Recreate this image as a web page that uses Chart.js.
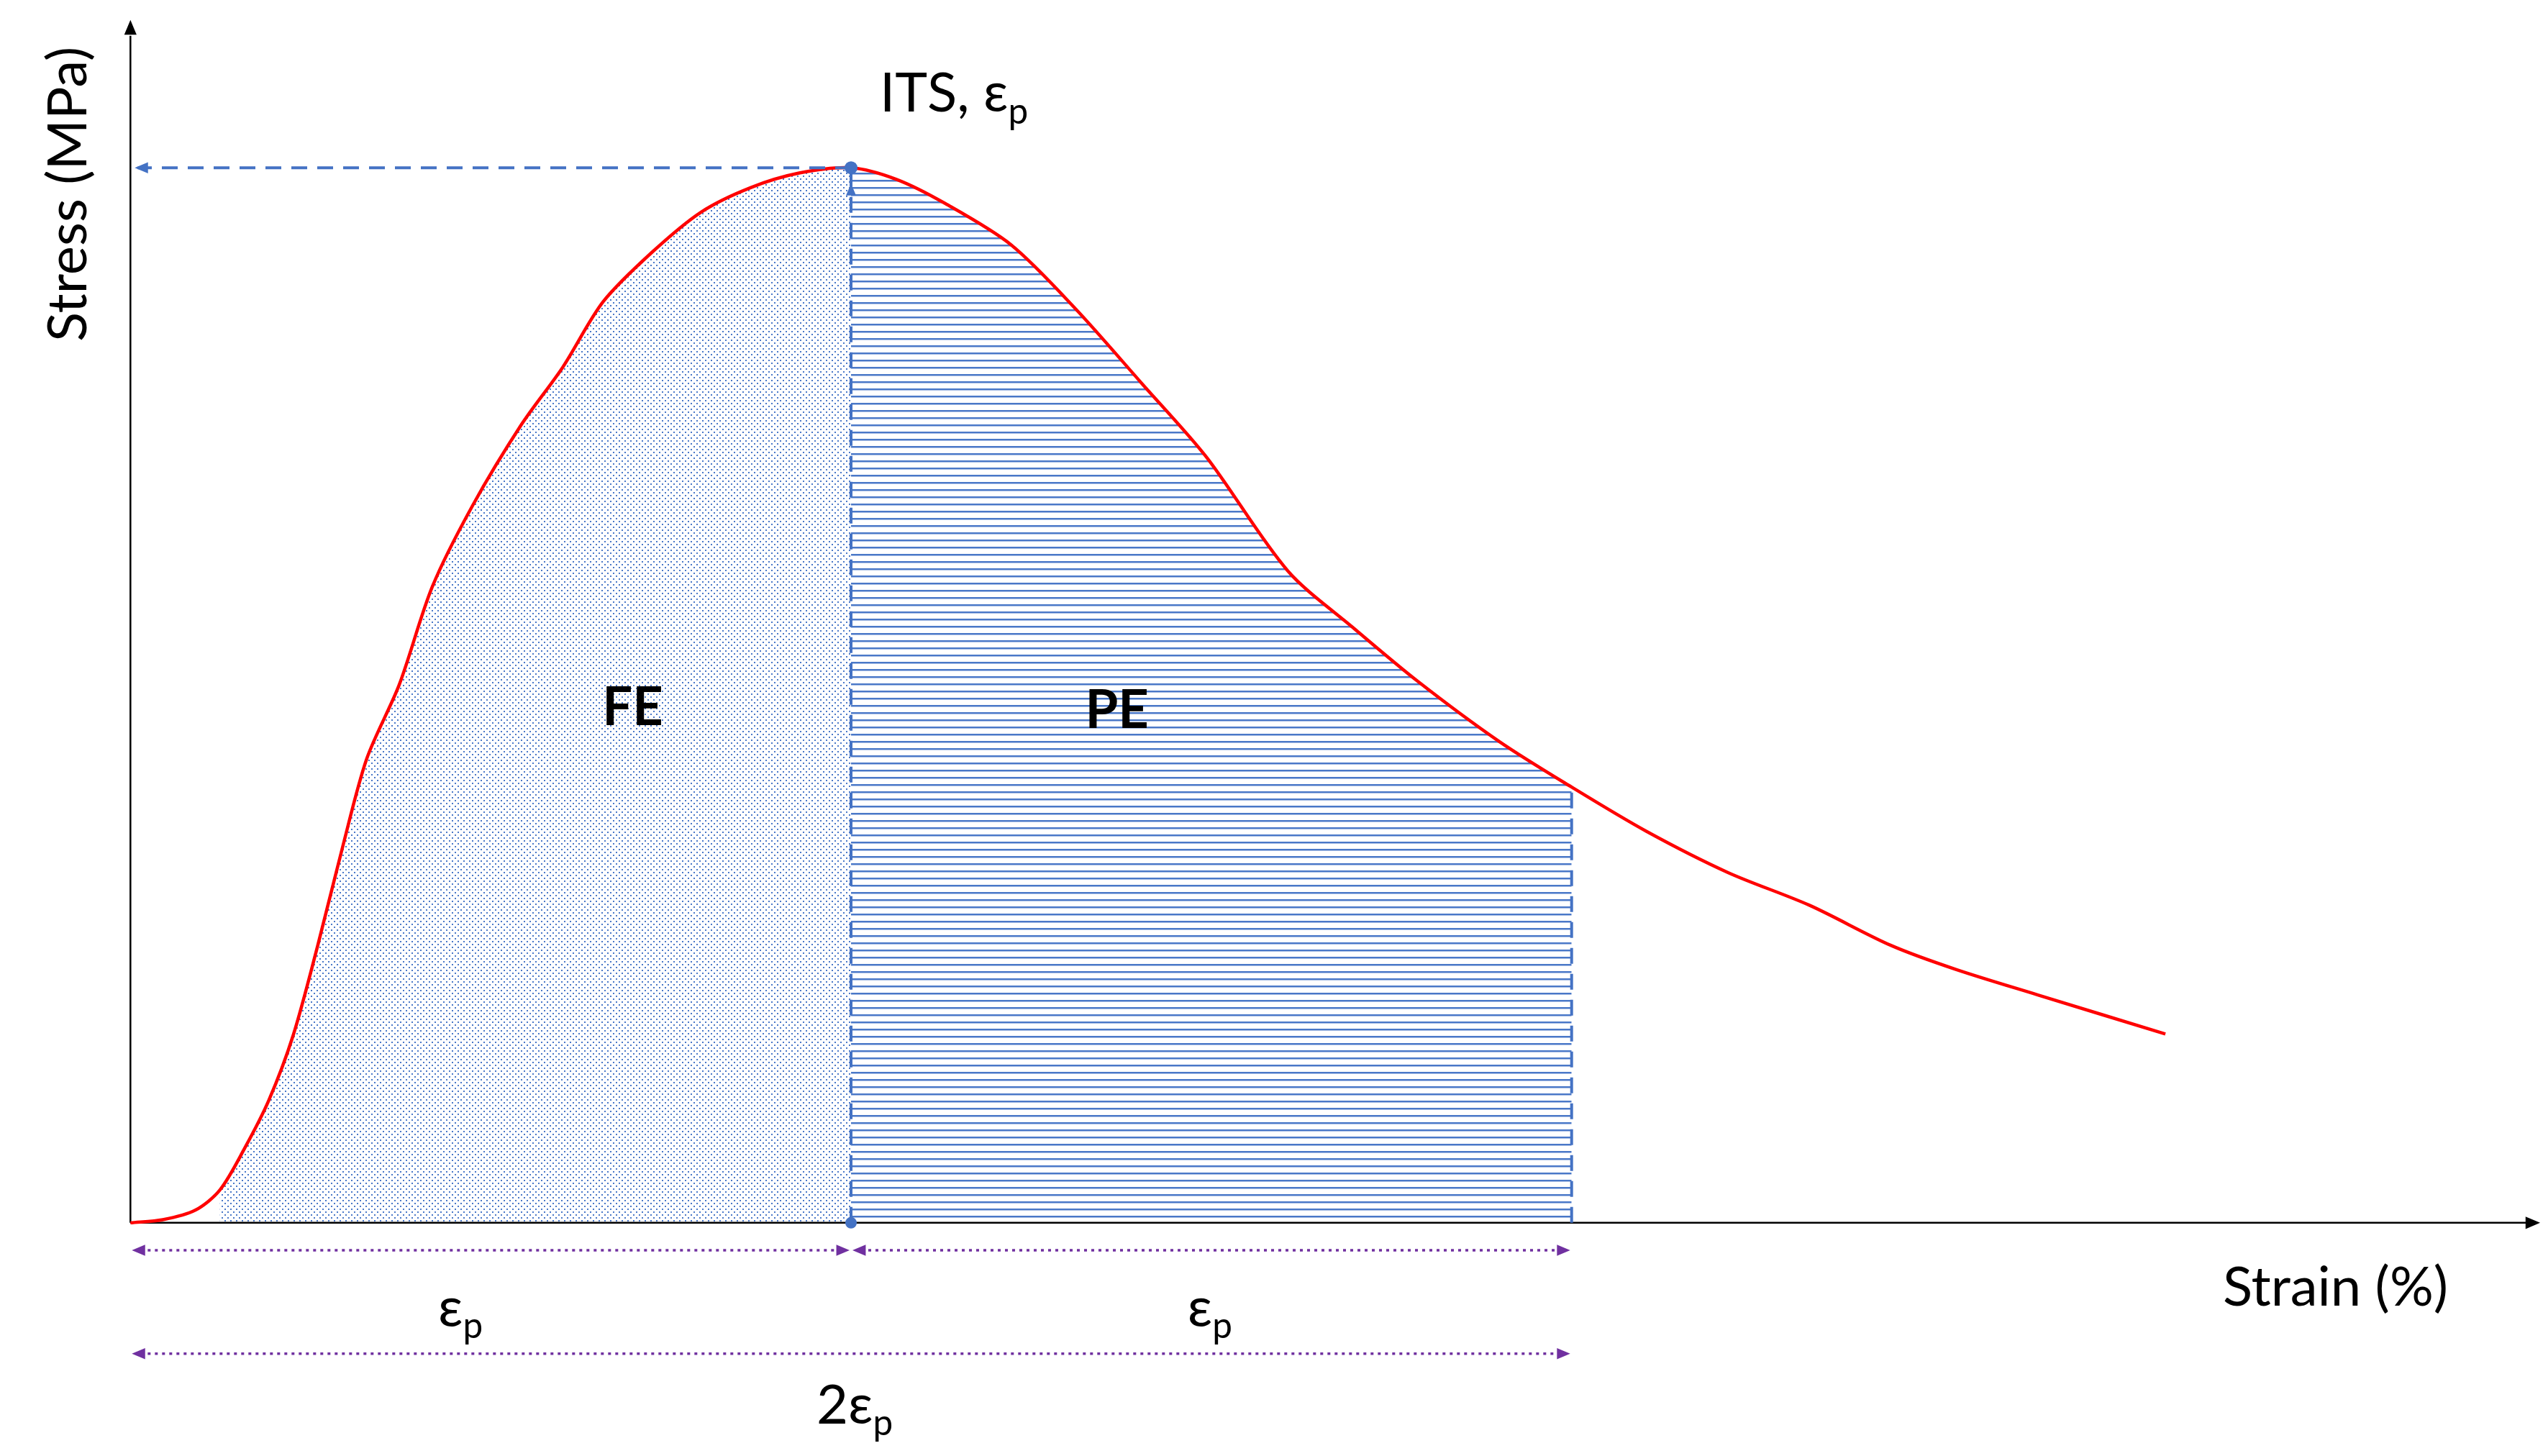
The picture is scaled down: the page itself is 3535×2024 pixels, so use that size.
<!DOCTYPE html>
<html><head><meta charset="utf-8">
<script src="https://cdn.jsdelivr.net/npm/chart.js@4"></script>
<style>html,body{margin:0;padding:0;background:#fff}#w{width:3535px;height:2024px}</style>
</head><body><div id="w"><canvas id="c" width="3535" height="2024"></canvas></div>
<script>
// Strain in units of εp, stress normalised to ITS
const strain = [0,0.045,0.09,0.124,0.158,0.192,0.226,0.26,0.294,0.328,0.373,0.419,0.475,0.543,0.6,0.656,0.724,0.792,0.86,0.928,1.0,1.063,1.131,1.222,1.312,1.403,1.493,1.606,1.697,1.787,1.9,2.0,2.104,2.217,2.33,2.443,2.534,2.647,2.824];
const stress = [0,0.003,0.012,0.031,0.07,0.116,0.178,0.263,0.355,0.44,0.51,0.603,0.68,0.757,0.811,0.873,0.92,0.958,0.981,0.995,1.0,0.989,0.966,0.927,0.866,0.796,0.726,0.618,0.564,0.513,0.456,0.413,0.371,0.332,0.301,0.263,0.24,0.216,0.179];
const peakStrain = 1, peakStress = 1, pePlusStrain = 2;
const labels = {y:'Stress (MPa)', x:'Strain (%)', peak:'ITS, ε', fe:'FE', pe:'PE'};

const pts = strain.map((x,i)=>({x, y:stress[i]}));
const fePts = pts.filter(p=>p.x>=0.11 && p.x<=peakStrain);
const pePts = pts.filter(p=>p.x>=peakStrain && p.x<=pePlusStrain);

function mkPattern(type){
  const c=document.createElement('canvas'); const g=c.getContext('2d');
  if(type==='dots'){c.width=8;c.height=8;g.fillStyle='#4a78c8';
    g.fillRect(0,0,2,2);g.fillRect(4,4,2,2);}
  else {c.width=8;c.height=10;g.fillStyle='#4a78c8';g.fillRect(0,0,8,2.5);}
  return g.createPattern(c,'repeat');
}
const BLUE='#4472C4', PURPLE='#7030A0', FONT='Lato, "Open Sans", sans-serif';

function arrow(ctx,x1,y1,x2,y2,size){
  const a=Math.atan2(y2-y1,x2-x1);
  ctx.beginPath();ctx.moveTo(x2,y2);
  ctx.lineTo(x2-size*Math.cos(a-0.4),y2-size*Math.sin(a-0.4));
  ctx.lineTo(x2-size*Math.cos(a+0.4),y2-size*Math.sin(a+0.4));ctx.closePath();ctx.fill();
}
function subText(ctx,main,sub,x,y,size,align){
  ctx.font=`${size}px ${FONT}`;const w1=ctx.measureText(main).width;
  ctx.font=`${size*0.65}px ${FONT}`;const w2=ctx.measureText(sub).width;
  let sx = align==='left'?x:x-(w1+w2)/2;
  ctx.textAlign='left';ctx.textBaseline='alphabetic';
  ctx.font=`${size}px ${FONT}`;ctx.fillText(main,sx,y);
  ctx.font=`${size*0.65}px ${FONT}`;ctx.fillText(sub,sx+w1,y+size*0.22);
}

const deco={id:'deco',
 beforeDatasetsDraw(ch){
  const {ctx,scales:{x,y}}=ch;ctx.save();
  const X=v=>x.getPixelForValue(v),Y=v=>y.getPixelForValue(v);
  // axes
  ctx.strokeStyle='#000';ctx.fillStyle='#000';ctx.lineWidth=2.5;
  ctx.beginPath();ctx.moveTo(X(0),Y(0));ctx.lineTo(x.right-8,Y(0));ctx.stroke();
  arrow(ctx,X(0),Y(0),x.right-4,Y(0),22);
  ctx.beginPath();ctx.moveTo(X(0),Y(0));ctx.lineTo(X(0),Y(1.125));ctx.stroke();
  arrow(ctx,X(0),Y(0),X(0),Y(1.14),22);
  ctx.restore();
 },
 afterDatasetsDraw(ch){
  const {ctx,scales:{x,y}}=ch;ctx.save();
  const X=v=>x.getPixelForValue(v),Y=v=>y.getPixelForValue(v);
  const endY=stress[strain.indexOf(pePlusStrain)];
  ctx.strokeStyle=BLUE;ctx.fillStyle=BLUE;ctx.lineWidth=4;ctx.setLineDash([22,14]);
  ctx.beginPath();ctx.moveTo(X(peakStrain),Y(peakStress));ctx.lineTo(X(0)+10,Y(peakStress));ctx.stroke();
  ctx.beginPath();ctx.moveTo(X(peakStrain),Y(0));ctx.lineTo(X(peakStrain),Y(peakStress));ctx.stroke();
  ctx.beginPath();ctx.moveTo(X(pePlusStrain),Y(0));ctx.lineTo(X(pePlusStrain),Y(endY));ctx.stroke();
  ctx.setLineDash([]);
  arrow(ctx,X(0.5),Y(peakStress),X(0)+6,Y(peakStress),20);
  arrow(ctx,X(peakStrain),Y(0.5),X(peakStrain),Y(0.985),18);
  ctx.beginPath();ctx.arc(X(peakStrain),Y(peakStress),9,0,7);ctx.fill();
  ctx.beginPath();ctx.arc(X(peakStrain),Y(0),8,0,7);ctx.fill();
  // dimension lines
  ctx.strokeStyle=PURPLE;ctx.fillStyle=PURPLE;ctx.lineWidth=3.5;ctx.setLineDash([4,6]);
  const d1=-0.026,d2=-0.124;
  [[0,peakStrain,d1],[peakStrain,pePlusStrain,d1],[0,pePlusStrain,d2]].forEach(([a,b,yy])=>{
    ctx.setLineDash([4,6]);ctx.beginPath();ctx.moveTo(X(a)+14,Y(yy));ctx.lineTo(X(b)-14,Y(yy));ctx.stroke();
    ctx.setLineDash([]);arrow(ctx,X(b),Y(yy),X(a)+2,Y(yy),20);arrow(ctx,X(a),Y(yy),X(b)-2,Y(yy),20);
  });
  // texts
  ctx.fillStyle='#000';
  subText(ctx,'ε','p',X(0.458),Y(-0.098),76,'center');
  subText(ctx,'ε','p',X(1.498),Y(-0.098),76,'center');
  subText(ctx,'2ε','p',X(1.005),Y(-0.19),76,'center');
  subText(ctx,labels.peak,'p',X(1.04),Y(1.053),76,'left');
  ctx.font=`76px ${FONT}`;ctx.textAlign='center';ctx.textBaseline='middle';
  ctx.fillText(labels.x,X(3.06),Y(-0.062));
  ctx.font=`bold 74px ${FONT}`;
  ctx.fillText(labels.fe,X(0.697),Y(0.488));
  ctx.fillText(labels.pe,X(1.369),Y(0.485));
  ctx.save();ctx.translate(X(-0.086),Y(0.975));ctx.rotate(-Math.PI/2);
  ctx.font=`76px ${FONT}`;ctx.fillText(labels.y,0,0);ctx.restore();
  ctx.restore();
 }};

new Chart(document.getElementById('c'),{
 type:'line',
 data:{datasets:[
  {data:fePts,borderWidth:0,pointRadius:0,fill:'origin',backgroundColor:mkPattern('dots'),tension:0.3,order:3},
  {data:pePts,borderWidth:0,pointRadius:0,fill:'origin',backgroundColor:mkPattern('lines'),tension:0.3,order:2},
  {data:pts,borderColor:'#FF0000',borderWidth:4.5,pointRadius:0,fill:false,tension:0.3,order:1}
 ]},
 options:{responsive:false,animation:false,devicePixelRatio:1,
  layout:{padding:0},
  plugins:{legend:{display:false},tooltip:{enabled:false}},
  scales:{x:{type:'linear',min:-0.181,max:3.348,display:false},
          y:{type:'linear',min:-0.221,max:1.159,display:false}}},
 plugins:[deco]
});
</script></body></html>
